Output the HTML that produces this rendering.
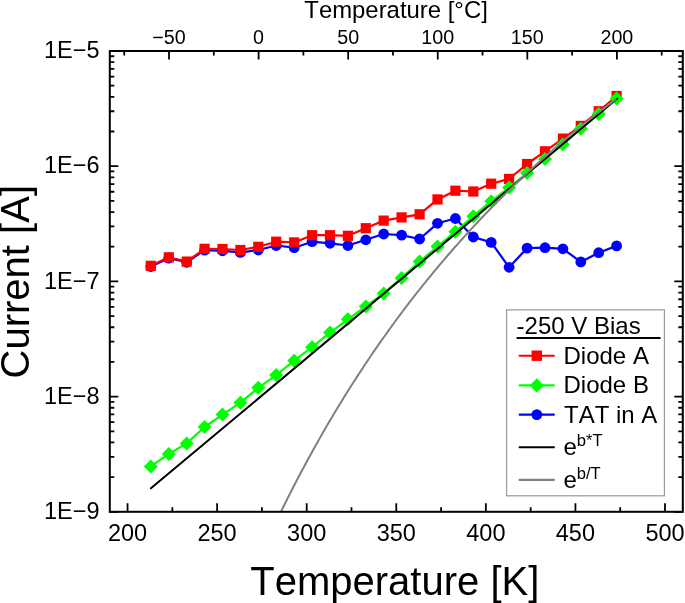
<!DOCTYPE html>
<html><head><meta charset="utf-8"><style>
html,body{margin:0;padding:0;background:#fff;}
svg{display:block;will-change:transform;}
text{font-family:"Liberation Sans",sans-serif;fill:#000;font-kerning:none;}
</style></head><body>
<svg width="685" height="603" viewBox="0 0 685 603">
<rect width="685" height="603" fill="#fff"/>
<defs><clipPath id="pc"><rect x="109.8" y="51.0" width="573.0" height="460.8"/></clipPath></defs>
<g clip-path="url(#pc)">
<polyline points="150.8,266.5 168.8,258.2 186.7,262.3 204.6,250.2 222.5,250.8 240.4,252.4 258.3,250.0 276.2,245.5 294.2,247.7 312.1,241.7 330.0,243.3 347.9,245.5 365.8,239.8 383.7,234.0 401.6,235.1 419.6,239.0 437.5,223.3 455.4,218.5 473.3,237.0 491.2,242.4 509.1,267.3 527.1,248.1 545.0,247.7 562.9,248.8 580.8,261.9 598.7,252.7 616.6,245.9" fill="none" stroke="#0000ff" stroke-width="2.2" stroke-linejoin="round"/>
<circle cx="150.8" cy="266.5" r="5.4" fill="#0000ff"/>
<circle cx="168.8" cy="258.2" r="5.4" fill="#0000ff"/>
<circle cx="186.7" cy="262.3" r="5.4" fill="#0000ff"/>
<circle cx="204.6" cy="250.2" r="5.4" fill="#0000ff"/>
<circle cx="222.5" cy="250.8" r="5.4" fill="#0000ff"/>
<circle cx="240.4" cy="252.4" r="5.4" fill="#0000ff"/>
<circle cx="258.3" cy="250.0" r="5.4" fill="#0000ff"/>
<circle cx="276.2" cy="245.5" r="5.4" fill="#0000ff"/>
<circle cx="294.2" cy="247.7" r="5.4" fill="#0000ff"/>
<circle cx="312.1" cy="241.7" r="5.4" fill="#0000ff"/>
<circle cx="330.0" cy="243.3" r="5.4" fill="#0000ff"/>
<circle cx="347.9" cy="245.5" r="5.4" fill="#0000ff"/>
<circle cx="365.8" cy="239.8" r="5.4" fill="#0000ff"/>
<circle cx="383.7" cy="234.0" r="5.4" fill="#0000ff"/>
<circle cx="401.6" cy="235.1" r="5.4" fill="#0000ff"/>
<circle cx="419.6" cy="239.0" r="5.4" fill="#0000ff"/>
<circle cx="437.5" cy="223.3" r="5.4" fill="#0000ff"/>
<circle cx="455.4" cy="218.5" r="5.4" fill="#0000ff"/>
<circle cx="473.3" cy="237.0" r="5.4" fill="#0000ff"/>
<circle cx="491.2" cy="242.4" r="5.4" fill="#0000ff"/>
<circle cx="509.1" cy="267.3" r="5.4" fill="#0000ff"/>
<circle cx="527.1" cy="248.1" r="5.4" fill="#0000ff"/>
<circle cx="545.0" cy="247.7" r="5.4" fill="#0000ff"/>
<circle cx="562.9" cy="248.8" r="5.4" fill="#0000ff"/>
<circle cx="580.8" cy="261.9" r="5.4" fill="#0000ff"/>
<circle cx="598.7" cy="252.7" r="5.4" fill="#0000ff"/>
<circle cx="616.6" cy="245.9" r="5.4" fill="#0000ff"/>
<polyline points="150.8,265.8 168.8,257.3 186.7,261.6 204.6,248.8 222.5,249.0 240.4,250.0 258.3,246.8 276.2,241.7 294.2,242.4 312.1,235.2 330.0,235.2 347.9,235.8 365.8,228.2 383.7,220.6 401.6,217.4 419.6,214.3 437.5,199.4 455.4,190.7 473.3,191.5 491.2,183.7 509.1,178.9 527.1,164.0 545.0,151.3 562.9,138.6 580.8,125.9 598.7,111.3 616.6,96.0" fill="none" stroke="#ff0000" stroke-width="2.2" stroke-linejoin="round"/>
<rect x="145.7" y="260.7" width="10.2" height="10.2" fill="#ff0000"/>
<rect x="163.7" y="252.2" width="10.2" height="10.2" fill="#ff0000"/>
<rect x="181.6" y="256.5" width="10.2" height="10.2" fill="#ff0000"/>
<rect x="199.5" y="243.7" width="10.2" height="10.2" fill="#ff0000"/>
<rect x="217.4" y="243.9" width="10.2" height="10.2" fill="#ff0000"/>
<rect x="235.3" y="244.9" width="10.2" height="10.2" fill="#ff0000"/>
<rect x="253.2" y="241.7" width="10.2" height="10.2" fill="#ff0000"/>
<rect x="271.1" y="236.6" width="10.2" height="10.2" fill="#ff0000"/>
<rect x="289.1" y="237.3" width="10.2" height="10.2" fill="#ff0000"/>
<rect x="307.0" y="230.1" width="10.2" height="10.2" fill="#ff0000"/>
<rect x="324.9" y="230.1" width="10.2" height="10.2" fill="#ff0000"/>
<rect x="342.8" y="230.7" width="10.2" height="10.2" fill="#ff0000"/>
<rect x="360.7" y="223.1" width="10.2" height="10.2" fill="#ff0000"/>
<rect x="378.6" y="215.5" width="10.2" height="10.2" fill="#ff0000"/>
<rect x="396.5" y="212.3" width="10.2" height="10.2" fill="#ff0000"/>
<rect x="414.5" y="209.2" width="10.2" height="10.2" fill="#ff0000"/>
<rect x="432.4" y="194.3" width="10.2" height="10.2" fill="#ff0000"/>
<rect x="450.3" y="185.6" width="10.2" height="10.2" fill="#ff0000"/>
<rect x="468.2" y="186.4" width="10.2" height="10.2" fill="#ff0000"/>
<rect x="486.1" y="178.6" width="10.2" height="10.2" fill="#ff0000"/>
<rect x="504.0" y="173.8" width="10.2" height="10.2" fill="#ff0000"/>
<rect x="522.0" y="158.9" width="10.2" height="10.2" fill="#ff0000"/>
<rect x="539.9" y="146.2" width="10.2" height="10.2" fill="#ff0000"/>
<rect x="557.8" y="133.5" width="10.2" height="10.2" fill="#ff0000"/>
<rect x="575.7" y="120.8" width="10.2" height="10.2" fill="#ff0000"/>
<rect x="593.6" y="106.2" width="10.2" height="10.2" fill="#ff0000"/>
<rect x="611.5" y="90.9" width="10.2" height="10.2" fill="#ff0000"/>
<polyline points="150.8,466.4 168.8,454.0 186.7,443.4 204.6,427.0 222.5,414.6 240.4,402.7 258.3,387.8 276.2,375.1 294.2,360.7 312.1,347.2 330.0,332.6 347.9,319.3 365.8,306.5 383.7,293.4 401.6,277.9 419.6,261.6 437.5,246.6 455.4,231.7 473.3,216.2 491.2,201.2 509.1,187.5 527.1,173.1 545.0,159.0 562.9,144.5 580.8,128.7 598.7,113.9 616.6,98.5" fill="none" stroke="#00ff00" stroke-width="2.2" stroke-linejoin="round"/>
<polygon points="150.8,459.4 157.8,466.4 150.8,473.4 143.8,466.4" fill="#00ff00"/>
<polygon points="168.8,447.0 175.8,454.0 168.8,461.0 161.8,454.0" fill="#00ff00"/>
<polygon points="186.7,436.4 193.7,443.4 186.7,450.4 179.7,443.4" fill="#00ff00"/>
<polygon points="204.6,420.0 211.6,427.0 204.6,434.0 197.6,427.0" fill="#00ff00"/>
<polygon points="222.5,407.6 229.5,414.6 222.5,421.6 215.5,414.6" fill="#00ff00"/>
<polygon points="240.4,395.7 247.4,402.7 240.4,409.7 233.4,402.7" fill="#00ff00"/>
<polygon points="258.3,380.8 265.3,387.8 258.3,394.8 251.3,387.8" fill="#00ff00"/>
<polygon points="276.2,368.1 283.2,375.1 276.2,382.1 269.2,375.1" fill="#00ff00"/>
<polygon points="294.2,353.7 301.2,360.7 294.2,367.7 287.2,360.7" fill="#00ff00"/>
<polygon points="312.1,340.2 319.1,347.2 312.1,354.2 305.1,347.2" fill="#00ff00"/>
<polygon points="330.0,325.6 337.0,332.6 330.0,339.6 323.0,332.6" fill="#00ff00"/>
<polygon points="347.9,312.3 354.9,319.3 347.9,326.3 340.9,319.3" fill="#00ff00"/>
<polygon points="365.8,299.5 372.8,306.5 365.8,313.5 358.8,306.5" fill="#00ff00"/>
<polygon points="383.7,286.4 390.7,293.4 383.7,300.4 376.7,293.4" fill="#00ff00"/>
<polygon points="401.6,270.9 408.6,277.9 401.6,284.9 394.6,277.9" fill="#00ff00"/>
<polygon points="419.6,254.6 426.6,261.6 419.6,268.6 412.6,261.6" fill="#00ff00"/>
<polygon points="437.5,239.6 444.5,246.6 437.5,253.6 430.5,246.6" fill="#00ff00"/>
<polygon points="455.4,224.7 462.4,231.7 455.4,238.7 448.4,231.7" fill="#00ff00"/>
<polygon points="473.3,209.2 480.3,216.2 473.3,223.2 466.3,216.2" fill="#00ff00"/>
<polygon points="491.2,194.2 498.2,201.2 491.2,208.2 484.2,201.2" fill="#00ff00"/>
<polygon points="509.1,180.5 516.1,187.5 509.1,194.5 502.1,187.5" fill="#00ff00"/>
<polygon points="527.1,166.1 534.1,173.1 527.1,180.1 520.1,173.1" fill="#00ff00"/>
<polygon points="545.0,152.0 552.0,159.0 545.0,166.0 538.0,159.0" fill="#00ff00"/>
<polygon points="562.9,137.5 569.9,144.5 562.9,151.5 555.9,144.5" fill="#00ff00"/>
<polygon points="580.8,121.7 587.8,128.7 580.8,135.7 573.8,128.7" fill="#00ff00"/>
<polygon points="598.7,106.9 605.7,113.9 598.7,120.9 591.7,113.9" fill="#00ff00"/>
<polygon points="616.6,91.5 623.6,98.5 616.6,105.5 609.6,98.5" fill="#00ff00"/>
<line x1="150.9" y1="488.3" x2="617.0" y2="98.7" stroke="#000" stroke-width="2" stroke-linecap="round"/>
<polyline points="270.87,532.65 272.61,528.98 274.34,525.34 276.08,521.72 277.82,518.12 279.56,514.55 281.29,511.00 283.03,507.48 284.77,503.98 286.51,500.50 288.24,497.05 289.98,493.62 291.72,490.21 293.46,486.83 295.19,483.47 296.93,480.13 298.67,476.81 300.41,473.51 302.14,470.24 303.88,466.98 305.62,463.75 307.36,460.54 309.09,457.35 310.83,454.18 312.57,451.03 314.31,447.90 316.04,444.79 317.78,441.70 319.52,438.63 321.26,435.57 322.99,432.54 324.73,429.53 326.47,426.53 328.21,423.56 329.94,420.60 331.68,417.66 333.42,414.74 335.16,411.84 336.89,408.95 338.63,406.08 340.37,403.23 342.11,400.40 343.84,397.58 345.58,394.78 347.32,392.00 349.06,389.24 350.79,386.49 352.53,383.75 354.27,381.04 356.01,378.34 357.74,375.65 359.48,372.98 361.22,370.33 362.96,367.69 364.69,365.07 366.43,362.46 368.17,359.87 369.91,357.30 371.64,354.73 373.38,352.19 375.12,349.66 376.86,347.14 378.59,344.63 380.33,342.14 382.07,339.67 383.81,337.21 385.54,334.76 387.28,332.33 389.02,329.91 390.76,327.50 392.49,325.11 394.23,322.73 395.97,320.36 397.71,318.01 399.44,315.67 401.18,313.34 402.92,311.02 404.66,308.72 406.39,306.43 408.13,304.16 409.87,301.89 411.61,299.64 413.34,297.40 415.08,295.17 416.82,292.95 418.56,290.75 420.29,288.56 422.03,286.38 423.77,284.21 425.51,282.05 427.24,279.90 428.98,277.77 430.72,275.64 432.46,273.53 434.19,271.43 435.93,269.34 437.67,267.26 439.41,265.19 441.14,263.13 442.88,261.08 444.62,259.04 446.36,257.02 448.09,255.00 449.83,252.99 451.57,251.00 453.31,249.01 455.04,247.03 456.78,245.07 458.52,243.11 460.26,241.17 461.99,239.23 463.73,237.30 465.47,235.39 467.21,233.48 468.94,231.58 470.68,229.69 472.42,227.81 474.16,225.94 475.89,224.08 477.63,222.23 479.37,220.39 481.11,218.55 482.84,216.73 484.58,214.91 486.32,213.11 488.06,211.31 489.79,209.52 491.53,207.74 493.27,205.96 495.01,204.20 496.74,202.44 498.48,200.70 500.22,198.96 501.96,197.23 503.69,195.50 505.43,193.79 507.17,192.08 508.91,190.39 510.64,188.70 512.38,187.01 514.12,185.34 515.86,183.67 517.59,182.01 519.33,180.36 521.07,178.72 522.81,177.08 524.54,175.45 526.28,173.83 528.02,172.22 529.76,170.61 531.49,169.01 533.23,167.42 534.97,165.84 536.71,164.26 538.44,162.69 540.18,161.13 541.92,159.57 543.66,158.02 545.39,156.48 547.13,154.94 548.87,153.41 550.61,151.89 552.34,150.38 554.08,148.87 555.82,147.37 557.56,145.87 559.29,144.38 561.03,142.90 562.77,141.43 564.50,139.96 566.24,138.50 567.98,137.04 569.72,135.59 571.45,134.15 573.19,132.71 574.93,131.28 576.67,129.85 578.40,128.43 580.14,127.02 581.88,125.61 583.62,124.21 585.35,122.82 587.09,121.43 588.83,120.05 590.57,118.67 592.30,117.30 594.04,115.93 595.78,114.57 597.52,113.22 599.25,111.87 600.99,110.53 602.73,109.19 604.47,107.86 606.20,106.53 607.94,105.21 609.68,103.90 611.42,102.59 613.15,101.29 614.89,99.99 616.63,98.69" fill="none" stroke="#808080" stroke-width="2"/>
</g>
<rect x="109.8" y="51.0" width="573.0" height="460.8" fill="none" stroke="#000" stroke-width="2"/>
<path d="M127.55,511.8V503.3 M172.34,511.8V507.3 M217.12,511.8V503.3 M261.91,511.8V507.3 M306.70,511.8V503.3 M351.49,511.8V507.3 M396.28,511.8V503.3 M441.06,511.8V507.3 M485.85,511.8V503.3 M530.64,511.8V507.3 M575.42,511.8V503.3 M620.21,511.8V507.3 M665.00,511.8V503.3 M124.24,51.0V55.5 M169.02,51.0V59.5 M213.81,51.0V55.5 M258.60,51.0V59.5 M303.39,51.0V55.5 M348.17,51.0V59.5 M392.96,51.0V55.5 M437.75,51.0V59.5 M482.54,51.0V55.5 M527.32,51.0V59.5 M572.11,51.0V55.5 M616.90,51.0V59.5 M661.69,51.0V55.5 M109.8,511.80H118.3 M682.8,511.80H674.3 M109.8,477.12H114.3 M682.8,477.12H678.3 M109.8,456.84H114.3 M682.8,456.84H678.3 M109.8,442.44H114.3 M682.8,442.44H678.3 M109.8,431.28H114.3 M682.8,431.28H678.3 M109.8,422.16H114.3 M682.8,422.16H678.3 M109.8,414.44H114.3 M682.8,414.44H678.3 M109.8,407.76H114.3 M682.8,407.76H678.3 M109.8,401.87H114.3 M682.8,401.87H678.3 M109.8,396.60H118.3 M682.8,396.60H674.3 M109.8,361.92H114.3 M682.8,361.92H678.3 M109.8,341.64H114.3 M682.8,341.64H678.3 M109.8,327.24H114.3 M682.8,327.24H678.3 M109.8,316.08H114.3 M682.8,316.08H678.3 M109.8,306.96H114.3 M682.8,306.96H678.3 M109.8,299.24H114.3 M682.8,299.24H678.3 M109.8,292.56H114.3 M682.8,292.56H678.3 M109.8,286.67H114.3 M682.8,286.67H678.3 M109.8,281.40H118.3 M682.8,281.40H674.3 M109.8,246.72H114.3 M682.8,246.72H678.3 M109.8,226.44H114.3 M682.8,226.44H678.3 M109.8,212.04H114.3 M682.8,212.04H678.3 M109.8,200.88H114.3 M682.8,200.88H678.3 M109.8,191.76H114.3 M682.8,191.76H678.3 M109.8,184.04H114.3 M682.8,184.04H678.3 M109.8,177.36H114.3 M682.8,177.36H678.3 M109.8,171.47H114.3 M682.8,171.47H678.3 M109.8,166.20H118.3 M682.8,166.20H674.3 M109.8,131.52H114.3 M682.8,131.52H678.3 M109.8,111.24H114.3 M682.8,111.24H678.3 M109.8,96.84H114.3 M682.8,96.84H678.3 M109.8,85.68H114.3 M682.8,85.68H678.3 M109.8,76.56H114.3 M682.8,76.56H678.3 M109.8,68.84H114.3 M682.8,68.84H678.3 M109.8,62.16H114.3 M682.8,62.16H678.3 M109.8,56.27H114.3 M682.8,56.27H678.3" stroke="#000" stroke-width="1.8" fill="none"/>
<text x="127.5" y="541" font-family="Liberation Sans, sans-serif" font-size="23.5" text-anchor="middle">200</text>
<text x="217.1" y="541" font-family="Liberation Sans, sans-serif" font-size="23.5" text-anchor="middle">250</text>
<text x="306.7" y="541" font-family="Liberation Sans, sans-serif" font-size="23.5" text-anchor="middle">300</text>
<text x="396.3" y="541" font-family="Liberation Sans, sans-serif" font-size="23.5" text-anchor="middle">350</text>
<text x="485.9" y="541" font-family="Liberation Sans, sans-serif" font-size="23.5" text-anchor="middle">400</text>
<text x="575.4" y="541" font-family="Liberation Sans, sans-serif" font-size="23.5" text-anchor="middle">450</text>
<text x="665.0" y="541" font-family="Liberation Sans, sans-serif" font-size="23.5" text-anchor="middle">500</text>
<text x="169.0" y="43.5" font-family="Liberation Sans, sans-serif" font-size="19.7" text-anchor="middle">−50</text>
<text x="258.6" y="43.5" font-family="Liberation Sans, sans-serif" font-size="19.7" text-anchor="middle">0</text>
<text x="348.2" y="43.5" font-family="Liberation Sans, sans-serif" font-size="19.7" text-anchor="middle">50</text>
<text x="437.7" y="43.5" font-family="Liberation Sans, sans-serif" font-size="19.7" text-anchor="middle">100</text>
<text x="527.3" y="43.5" font-family="Liberation Sans, sans-serif" font-size="19.7" text-anchor="middle">150</text>
<text x="616.9" y="43.5" font-family="Liberation Sans, sans-serif" font-size="19.7" text-anchor="middle">200</text>
<text x="99.5" y="58.1" font-family="Liberation Sans, sans-serif" font-size="23.5" text-anchor="end">1E−5</text>
<text x="99.5" y="173.3" font-family="Liberation Sans, sans-serif" font-size="23.5" text-anchor="end">1E−6</text>
<text x="99.5" y="288.5" font-family="Liberation Sans, sans-serif" font-size="23.5" text-anchor="end">1E−7</text>
<text x="99.5" y="403.7" font-family="Liberation Sans, sans-serif" font-size="23.5" text-anchor="end">1E−8</text>
<text x="99.5" y="518.9" font-family="Liberation Sans, sans-serif" font-size="23.5" text-anchor="end">1E−9</text>
<text x="250.3" y="595" font-family="Liberation Sans, sans-serif" font-size="40">Temperature [K]</text>
<text x="0" y="0" font-family="Liberation Sans, sans-serif" font-size="40" transform="translate(29.2,378.4) rotate(-90)">Current [A]</text>
<text x="304.3" y="17.8" font-family="Liberation Sans, sans-serif" font-size="23.9">Temperature [°C]</text>
<rect x="506.6" y="309.9" width="157.8" height="185.9" fill="#fff" stroke="#999" stroke-width="1.2"/>
<text x="516.6" y="334.1" font-family="Liberation Sans, sans-serif" font-size="24">-250 V Bias</text>
<line x1="516.6" y1="338.1" x2="660.6" y2="338.1" stroke="#000" stroke-width="2"/>
<line x1="519.6" y1="355.7" x2="553.9" y2="355.7" stroke="#ff0000" stroke-width="2.1" stroke-linecap="round"/>
<rect x="531.5999999999999" y="350.5" width="10.4" height="10.4" fill="#ff0000"/>
<line x1="519.6" y1="385.4" x2="553.9" y2="385.4" stroke="#00ff00" stroke-width="2.1" stroke-linecap="round"/>
<polygon points="536.8,378.2 544.0,385.4 536.8,392.59999999999997 529.5999999999999,385.4" fill="#00ff00"/>
<line x1="519.6" y1="414.6" x2="553.9" y2="414.6" stroke="#0000ff" stroke-width="2.1" stroke-linecap="round"/>
<circle cx="536.8" cy="414.6" r="5.4" fill="#0000ff"/>
<line x1="519.6" y1="447.2" x2="553.9" y2="447.2" stroke="#000" stroke-width="2.1" stroke-linecap="round"/>
<line x1="519.6" y1="479.9" x2="553.9" y2="479.9" stroke="#808080" stroke-width="2.1" stroke-linecap="round"/>
<text x="563.5" y="364" font-family="Liberation Sans, sans-serif" font-size="24">Diode A</text>
<text x="563.5" y="393.1" font-family="Liberation Sans, sans-serif" font-size="24">Diode B</text>
<text x="564" y="422.8" font-family="Liberation Sans, sans-serif" font-size="24">TAT in A</text>
<text x="563.4" y="455.3" font-family="Liberation Sans, sans-serif" font-size="24">e<tspan font-size="16.6" dy="-9.6">b*T</tspan></text>
<text x="563.4" y="488.1" font-family="Liberation Sans, sans-serif" font-size="24">e<tspan font-size="16.6" dy="-9.6">b/T</tspan></text>
</svg>
</body></html>
